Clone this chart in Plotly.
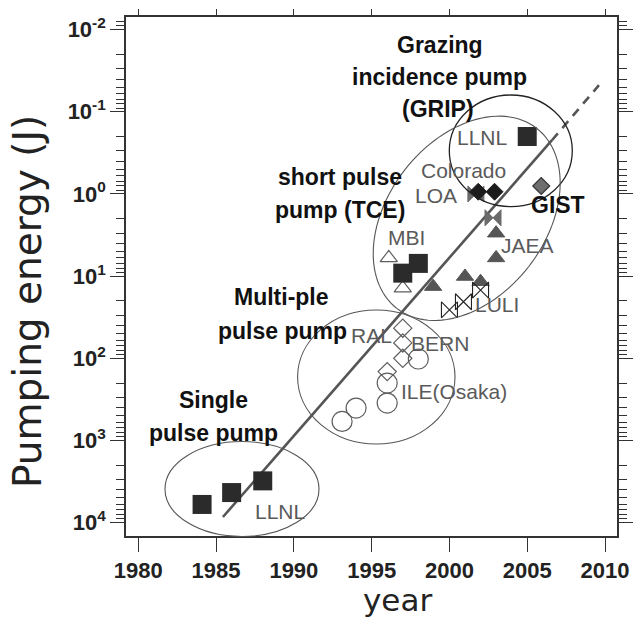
import numpy as np
import plotly.graph_objects as go

# ---------------- data ----------------
llnl_single_year = [1984.1, 1986.0, 1988.0]
llnl_single_energy = [6000, 4300, 3100]

square_1997_year = [1997.0, 1998.0]
square_1997_energy = [9.2, 7.0]

llnl_grip_year = [2005.0]
llnl_grip_energy = [0.2]

mbi_year = [1996.1, 1997.0]
mbi_energy = [6.0, 14.0]

jaea_year = [1998.95, 2001.0, 2002.0, 2003.0, 2003.0]
jaea_energy = [13.4, 10.1, 11.7, 6.0, 3.0]

luli_year = [2000.0, 2000.9, 2002.0]
luli_energy = [25.7, 20.5, 14.8]

loa_year = [2001.7, 2002.8]
loa_energy = [1.0, 1.95]

colorado_year = [2001.85, 2002.9]
colorado_energy = [0.94, 0.94]

gist_year = [2005.9]
gist_energy = [0.80]

ral_bern_year = [1996.0, 1997.0, 1997.0, 1997.0]
ral_bern_energy = [145, 100, 65, 43]

ile_year = [1993.1, 1994.0, 1996.0, 1996.0, 1998.0]
ile_energy = [586, 403, 350, 200, 102]

trend_year = [1985.44, 2006.59]
trend_energy = [8530, 0.222]
trend_ext_year = [2006.59, 2009.61]
trend_ext_energy = [0.222, 0.0475]

x_tick_vals = [1980, 1985, 1990, 1995, 2000, 2005, 2010]
y_tick_vals = [0.01, 0.1, 1, 10, 100, 1000, 10000]
y_tick_text = ["10<sup>-2</sup>", "10<sup>-1</sup>", "10<sup>0</sup>", "10<sup>1</sup>",
               "10<sup>2</sup>", "10<sup>3</sup>", "10<sup>4</sup>"]

# ---------------- layout geometry ----------------
W, H = 639, 619
L, R, T, B = 126, 22, 17, 83
PW, PH = W - L - R, H - T - B


def px(x):
    return (x - L) / PW


def py(y):
    return (H - B - y) / PH


DARK = "#2b2b2b"
GRAY = "#5e5e5e"
GRAYM = "#555555"

fig = go.Figure()

fig.add_trace(go.Scatter(x=trend_year, y=trend_energy, mode="lines",
                         line=dict(color=GRAYM, width=2.6), showlegend=False))
fig.add_trace(go.Scatter(x=trend_ext_year, y=trend_ext_energy, mode="lines",
                         line=dict(color=GRAYM, width=2.6, dash="9px,7px"), showlegend=False))


def add(xv, yv, symbol, size, fill, line_color, lw=1):
    fig.add_trace(go.Scatter(x=xv, y=yv, mode="markers", showlegend=False,
                             marker=dict(symbol=symbol, size=size, color=fill,
                                         line=dict(color=line_color, width=lw))))


add(ile_year, ile_energy, "circle-open", 20, GRAY, GRAY, 1.2)
add(ral_bern_year, ral_bern_energy, "diamond-open", 14, GRAY, GRAY, 1.2)
add(mbi_year, mbi_energy, "triangle-up-open", 15, GRAY, GRAY, 1.2)
add(jaea_year, jaea_energy, "triangle-up", 15, GRAYM, GRAYM, 1)
add(loa_year, loa_energy, "bowtie", 16, "#6a6a6a", "#6a6a6a", 1)
add(luli_year, luli_energy, "bowtie-open", 16, "#222222", "#222222", 1.1)
add(llnl_single_year, llnl_single_energy, "square", 19, DARK, DARK, 0)
add(square_1997_year, square_1997_energy, "square", 19, DARK, DARK, 0)
add(llnl_grip_year, llnl_grip_energy, "square", 19, DARK, DARK, 0)
add(colorado_year, colorado_energy, "diamond", 13, "#1c1c1c", "#1c1c1c", 1)
add(gist_year, gist_energy, "diamond", 13, "#6e6e6e", "#333333", 1.2)

# empty trace so that the top tick axis is drawn
fig.add_trace(go.Scatter(x=[], y=[], xaxis="x2", yaxis="y", showlegend=False, hoverinfo="skip"))

shapes = []


def ellipse(cx, cy, rx, ry, color, width):
    shapes.append(dict(type="circle", xref="paper", yref="paper",
                       x0=px(cx - rx), x1=px(cx + rx), y0=py(cy + ry), y1=py(cy - ry),
                       line=dict(color=color, width=width), layer="above"))


ellipse(242, 489, 77, 47.5, GRAYM, 1.1)
ellipse(376.3, 377, 78.7, 67, GRAYM, 1.1)
ellipse(510.8, 150.8, 61.5, 55.8, "#222222", 1.3)

# tilted ellipse
cx, cy, a, b, th = 466.7, 218.3, 114, 78.6, np.deg2rad(52.2)
t = np.linspace(0, 2 * np.pi, 121)
ex = cx + a * np.cos(th) * np.cos(t) - b * np.sin(th) * np.sin(t)
ey = cy - (a * np.sin(th) * np.cos(t) + b * np.cos(th) * np.sin(t))
path = "M " + " L ".join(f"{px(x):.5f},{py(y):.5f}" for x, y in zip(ex, ey)) + " Z"
shapes.append(dict(type="path", xref="paper", yref="paper", path=path,
                   line=dict(color=GRAYM, width=1.1), layer="above"))

annotations = []


def label(text, x, y, size, color, bold=False, angle=0):
    annotations.append(dict(text=text, x=px(x), y=py(y), xref="paper", yref="paper",
                            showarrow=False, xanchor="center", yanchor="middle",
                            textangle=angle,
                            font=dict(family="Liberation Sans, Arial, sans-serif", size=size,
                                      color=color, weight="bold" if bold else "normal")))


BLK = "#111111"
label("Grazing", 440, 45, 23, BLK, True)
label("incidence pump", 439, 77.5, 23, BLK, True)
label("(GRIP)", 438, 108.5, 23, BLK, True)
label("short pulse", 340, 177, 23, BLK, True)
label("pump (TCE)", 340, 209.5, 23, BLK, True)
label("Multi-ple", 281, 297, 23, BLK, True)
label("pulse pump", 282, 331, 23, BLK, True)
label("Single", 213, 400, 23, BLK, True)
label("pulse pump", 213, 433, 23, BLK, True)
label("GIST", 558, 205, 23, BLK, True)

LG = "#5a5a5a"
label("LLNL", 482.3, 137, 21, LG)
label("Colorado", 463.3, 170, 21, LG)
label("LOA", 436, 195, 21, LG)
label("MBI", 406.7, 237, 21, LG)
label("JAEA", 527, 245, 21, LG)
label("LULI", 497, 305, 21, LG)
label("RAL", 371.7, 335, 21, LG)
label("BERN", 440, 343.3, 21, LG)
label("ILE(Osaka)", 453.5, 391.5, 21, LG)
label("LLNL", 280, 511, 21, LG)

# axis titles
annotations.append(dict(text="year", x=px(397), y=py(600), xref="paper", yref="paper",
                        showarrow=False, xanchor="center", yanchor="middle",
                        font=dict(family="DejaVu Sans, sans-serif", size=31, color="#222222")))
annotations.append(dict(text="Pumping energy (J)", x=px(27), y=py(302), xref="paper", yref="paper",
                        showarrow=False, xanchor="center", yanchor="middle", textangle=-90,
                        font=dict(family="DejaVu Sans, sans-serif", size=39, color="#222222")))

minor_vals = [m * 10.0 ** k for k in range(-3, 5) for m in range(2, 10)]

tickfont = dict(family="Liberation Sans Narrow, Arial Narrow, Liberation Sans, sans-serif",
                size=22, color="#222222", weight="bold")

XR = [1979.21, 2010.77]

fig.update_layout(
    width=W, height=H,
    margin=dict(l=L, r=R, t=T, b=B, autoexpand=False),
    paper_bgcolor="white", plot_bgcolor="white",
    shapes=shapes, annotations=annotations,
    xaxis=dict(range=XR, tickmode="array", tickvals=x_tick_vals,
               ticks="outside", ticklen=14, tickwidth=1.3, tickcolor="#333333",
               showline=True, linecolor="#333333", linewidth=1.6, mirror=True,
               showgrid=False, zeroline=False, tickfont=tickfont, automargin=False),
    xaxis2=dict(range=XR, overlaying="x", side="top", anchor="y", tickmode="array",
                tickvals=x_tick_vals, ticks="outside", ticklen=7, tickwidth=1.3,
                tickcolor="#333333", showticklabels=False, showline=False,
                showgrid=False, zeroline=False, automargin=False),
    yaxis=dict(type="log", range=[4.162, -2.153], tickmode="array", tickvals=y_tick_vals,
               ticktext=y_tick_text, ticks="outside", ticklen=14, tickwidth=1.3,
               tickcolor="#333333", showline=True, linecolor="#333333", linewidth=1.6,
               mirror="ticks", showgrid=False, zeroline=False, tickfont=tickfont,
               automargin=False,
               minor=dict(tickmode="array", tickvals=minor_vals, ticks="outside", ticklen=8,
                          tickwidth=1, tickcolor="#333333", showgrid=False)),
)

fig.write_html("out.html")
